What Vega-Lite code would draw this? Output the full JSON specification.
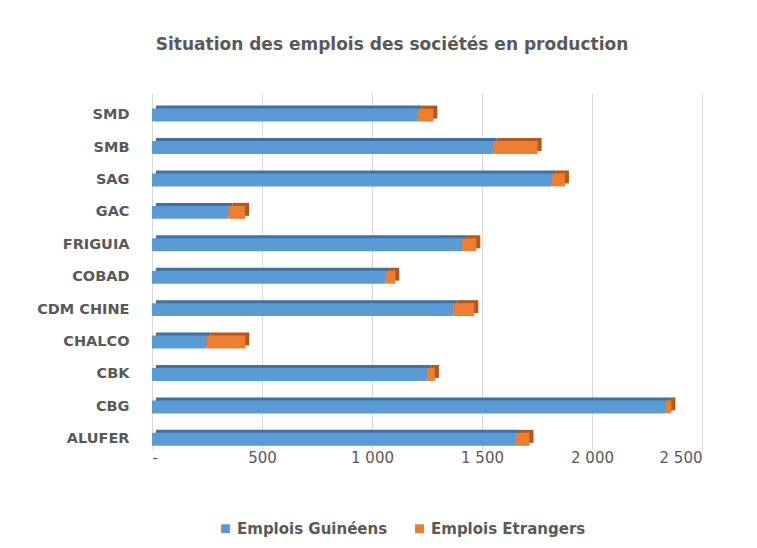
{
  "$schema": "https://vega.github.io/schema/vega-lite/v6.json",
  "width": 550,
  "height": 356,
  "padding": {"left": 36, "top": 36, "right": 10, "bottom": 10},
  "background": "white",
  "title": {
    "text": "Situation des emplois des sociétés en production",
    "fontSize": 17,
    "font": "DejaVu Sans",
    "fontWeight": "bold",
    "color": "#595959",
    "anchor": "middle",
    "frame": "group",
    "dx": -35,
    "offset": 39
  },
  "data": {
    "values": [
      {"societe": "SMD", "type": "Emplois Guinéens", "rang": 1, "emplois": 1208},
      {"societe": "SMD", "type": "Emplois Etrangers", "rang": 2, "emplois": 71},
      {"societe": "SMB", "type": "Emplois Guinéens", "rang": 1, "emplois": 1549},
      {"societe": "SMB", "type": "Emplois Etrangers", "rang": 2, "emplois": 204},
      {"societe": "SAG", "type": "Emplois Guinéens", "rang": 1, "emplois": 1814},
      {"societe": "SAG", "type": "Emplois Etrangers", "rang": 2, "emplois": 63},
      {"societe": "GAC", "type": "Emplois Guinéens", "rang": 1, "emplois": 347},
      {"societe": "GAC", "type": "Emplois Etrangers", "rang": 2, "emplois": 76},
      {"societe": "FRIGUIA", "type": "Emplois Guinéens", "rang": 1, "emplois": 1409},
      {"societe": "FRIGUIA", "type": "Emplois Etrangers", "rang": 2, "emplois": 65},
      {"societe": "COBAD", "type": "Emplois Guinéens", "rang": 1, "emplois": 1060},
      {"societe": "COBAD", "type": "Emplois Etrangers", "rang": 2, "emplois": 46},
      {"societe": "CDM CHINE", "type": "Emplois Guinéens", "rang": 1, "emplois": 1367},
      {"societe": "CDM CHINE", "type": "Emplois Etrangers", "rang": 2, "emplois": 98},
      {"societe": "CHALCO", "type": "Emplois Guinéens", "rang": 1, "emplois": 247},
      {"societe": "CHALCO", "type": "Emplois Etrangers", "rang": 2, "emplois": 177},
      {"societe": "CBK", "type": "Emplois Guinéens", "rang": 1, "emplois": 1249},
      {"societe": "CBK", "type": "Emplois Etrangers", "rang": 2, "emplois": 37},
      {"societe": "CBG", "type": "Emplois Guinéens", "rang": 1, "emplois": 2336},
      {"societe": "CBG", "type": "Emplois Etrangers", "rang": 2, "emplois": 25},
      {"societe": "ALUFER", "type": "Emplois Guinéens", "rang": 1, "emplois": 1650},
      {"societe": "ALUFER", "type": "Emplois Etrangers", "rang": 2, "emplois": 66}
    ]
  },
  "encoding": {
    "y": {
      "field": "societe",
      "type": "nominal",
      "sort": ["SMD", "SMB", "SAG", "GAC", "FRIGUIA", "COBAD", "CDM CHINE", "CHALCO", "CBK", "CBG", "ALUFER"],
      "title": null,
      "scale": {"paddingInner": 0.6, "paddingOuter": 0.29, "align": 0.83},
      "axis": {
        "domain": false,
        "ticks": false,
        "grid": false,
        "labelPadding": 23,
        "labelFont": "DejaVu Sans",
        "labelFontSize": 14.5,
        "labelFontWeight": "bold",
        "labelColor": "#595959"
      }
    },
    "x": {
      "field": "emplois",
      "type": "quantitative",
      "stack": "zero",
      "title": null,
      "scale": {"domain": [0, 2500], "nice": false},
      "axis": {
        "values": [0, 500, 1000, 1500, 2000, 2500],
        "labelExpr": "datum.value == 0 ? '-' : replace(format(datum.value, ','), ',', ' ')",
        "domain": false,
        "ticks": false,
        "grid": true,
        "gridColor": "#d9d9d9",
        "gridWidth": 1,
        "labelPadding": 1,
        "labelFont": "DejaVu Sans",
        "labelFontSize": 15,
        "labelColor": "#595959"
      }
    },
    "order": {"field": "rang", "type": "quantitative"}
  },
  "layer": [
    {
      "mark": {"type": "bar", "xOffset": 4, "yOffset": -3},
      "encoding": {
        "fill": {
          "field": "type",
          "type": "nominal",
          "scale": {"domain": ["Emplois Guinéens", "Emplois Etrangers"], "range": ["#41719C", "#AE5A21"]},
          "legend": null
        }
      }
    },
    {
      "mark": {"type": "bar"},
      "encoding": {
        "color": {
          "field": "type",
          "type": "nominal",
          "scale": {"domain": ["Emplois Guinéens", "Emplois Etrangers"], "range": ["#5B9BD5", "#ED7D31"]},
          "legend": {
            "orient": "none",
            "legendX": 66,
            "legendY": 428,
            "direction": "horizontal",
            "title": null,
            "symbolType": "square",
            "symbolSize": 80,
            "symbolStrokeWidth": 0,
            "labelFont": "DejaVu Sans",
            "labelFontSize": 15,
            "labelFontWeight": "bold",
            "labelColor": "#595959",
            "labelOffset": 4,
            "columnPadding": 24
          }
        }
      }
    }
  ],
  "resolve": {"legend": {"color": "independent", "fill": "independent"}},
  "config": {
    "view": {"stroke": null}
  }
}
